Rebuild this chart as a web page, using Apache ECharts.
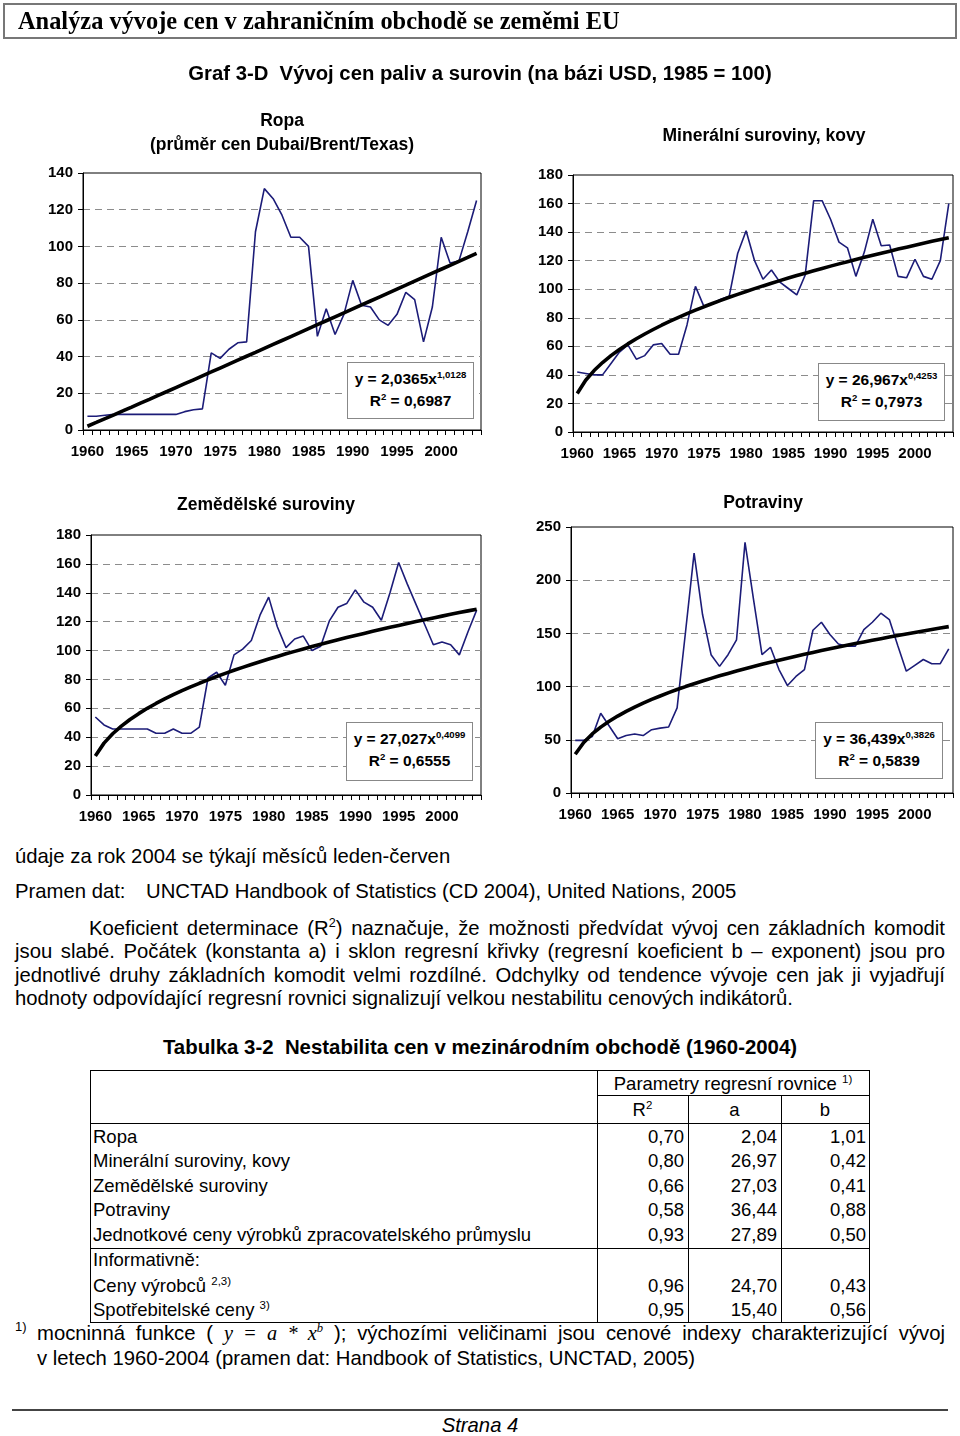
<!DOCTYPE html>
<html>
<head>
<meta charset="utf-8">
<script src="https://cdn.jsdelivr.net/npm/echarts@6/dist/echarts.min.js"></script>
<style>
html,body{margin:0;padding:0;background:#fff;}
#page{position:relative;width:960px;height:1436px;overflow:hidden;font-family:"Liberation Sans",Arial,sans-serif;color:#000;}
#chart{position:absolute;left:0;top:0;width:960px;height:840px;}
.t{position:absolute;white-space:nowrap;line-height:24px;height:24px;z-index:5;}
.c{text-align:center;}
.b{font-weight:bold;}
sup{font-size:62%;vertical-align:0;position:relative;top:-0.6em;line-height:0;}
.eq{position:absolute;z-index:6;background:#fff;border:1px solid #888;box-sizing:border-box;font-weight:bold;font-size:15.5px;text-align:center;line-height:22px;padding-top:5px;}
.just{text-align:justify;text-align-last:justify;}
.ln{position:absolute;background:#000;z-index:5;}
.bt{font-size:20.3px;}
</style>
</head>
<body>
<div id="page">
  <div id="chart"></div>
  <div style="position:absolute;left:3px;top:3px;width:950px;height:32px;border:2px solid #777;z-index:5;"></div>
  <div class="t" style="left:18px;top:8px;font-family:'Liberation Serif','Times New Roman',serif;font-weight:bold;font-size:24.4px;line-height:26px;">Analýza vývoje cen v zahraničním obchodě se zeměmi EU</div>
  <div class="t c b" style="left:0;width:960px;top:61px;font-size:20.3px;">Graf 3-D&nbsp; Vývoj cen paliv a surovin (na bázi USD, 1985 = 100)</div>
  <div id="titles"></div>
  <div id="eqs"></div>
  <div class="t bt" style="left:15px;top:844px;">údaje za rok 2004 se týkají měsíců leden-červen</div>
  <div class="t bt" style="left:15px;top:879px;">Pramen dat:</div>
  <div class="t bt" style="left:146px;top:879px;">UNCTAD Handbook of Statistics (CD 2004), United Nations, 2005</div>
  <div class="t just bt" style="left:89px;width:856px;top:916px;">Koeficient determinace (R<sup>2</sup>) naznačuje, že možnosti předvídat vývoj cen základních komodit</div>
  <div class="t just bt" style="left:15px;width:930px;top:939px;">jsou slabé. Počátek (konstanta a) i sklon regresní křivky (regresní koeficient b – exponent) jsou pro</div>
  <div class="t just bt" style="left:15px;width:930px;top:963px;">jednotlivé druhy základních komodit velmi rozdílné. Odchylky od tendence vývoje cen jak ji vyjadřují</div>
  <div class="t bt" style="left:15px;top:986px;">hodnoty odpovídající regresní rovnici signalizují velkou nestabilitu cenových indikátorů.</div>
  <div class="t c b" style="left:0;width:960px;top:1035px;font-size:20.4px;">Tabulka 3-2&nbsp; Nestabilita cen v mezinárodním obchodě (1960-2004)</div>
  <div id="table"></div>
  <div class="t" style="left:15px;top:1315px;font-size:13px;">1)</div>
  <div class="t just bt" style="left:37px;width:908px;top:1321px;">mocninná funkce ( <span style="font-family:'Liberation Serif',serif;font-style:italic;">y = a * x<sup>b</sup></span> ); výchozími veličinami jsou cenové indexy charakterizující vývoj</div>
  <div class="t bt" style="left:37px;top:1346px;">v letech 1960-2004 (pramen dat: Handbook of Statistics, UNCTAD, 2005)</div>
  <div style="position:absolute;left:12px;top:1409px;width:936px;height:2px;background:#444;"></div>
  <div class="t c" style="left:0;width:960px;top:1413px;font-size:20.3px;font-style:italic;">Strana 4</div>
</div>
<script>
// ---------- DATA ----------
const years = [1960,1961,1962,1963,1964,1965,1966,1967,1968,1969,
               1970,1971,1972,1973,1974,1975,1976,1977,1978,1979,
               1980,1981,1982,1983,1984,1985,1986,1987,1988,1989,
               1990,1991,1992,1993,1994,1995,1996,1997,1998,1999,
               2000,2001,2002,2003,2004];
const ropa = [7.5,7.5,8,8.5,8.5,8.5,8.5,8.5,8.5,8.5,
              8.5,10,11,11.5,42,39,44,47.5,48,108,
              131.5,126,117,105,105,100,51,66,52,63,
              81.5,68,67,60,57,63,75,71,48,67,
              105,91,92,108,125];
const mineralni = [42,41,40,40,48,56,61,51,53.5,61,
                   62,54.5,54.5,75,102,88,90,93,95,125,
                   141,120,107,113.5,105,100.5,96,110,162,162,
                   149,133,129,109,126,149,130.5,131,109,108,
                   121,109,107,120,160];
const zemedelske = [54,48.5,45.7,45.7,45.7,45.7,45.7,42.7,42.7,45.7,
                    42.7,42.7,47,81,85,76,97,101,107,124.5,
                    137,116.5,102,108,110,100,103,120.5,130,132.5,
                    142,133.5,130,121,140,161,146,132,118,104,
                    106,104,97,113,128];
const potraviny = [49.5,49.5,53,75,63,51,54,55.5,54,59.5,
                   61,62,80,152,225.5,167.5,130,119,130,144,
                   235.5,182,130,137,116,101,109.5,116,153,160.5,
                   149,140,138,138,153.5,160.5,169,163,138.5,114.5,
                   120,125.5,121.5,121.5,135.5];
// regression coefficients shown in the chart (y = a * x^b, x = 1..45)
const trendA = [2.0365, 26.967, 27.027, 36.439];
const trendB = [1.0128, 0.4253, 0.4099, 0.3826];
const eqA = ['2,0365','26,967','27,027','36,439'];
const eqB = ['1,0128','0,4253','0,4099','0,3826'];
const eqR2 = ['0,6987','0,7973','0,6555','0,5839'];
const chartTitles = [['Ropa','(průměr cen Dubai/Brent/Texas)'],['Minerální suroviny, kovy'],['Zemědělské suroviny'],['Potraviny']];
const yMax = [140, 180, 180, 250];
const yStep = [20, 20, 20, 50];

// table data
const tabRows = ['Ropa','Minerální suroviny, kovy','Zemědělské suroviny','Potraviny','Jednotkové ceny výrobků zpracovatelského průmyslu'];
const tabR2 = ['0,70','0,80','0,66','0,58','0,93'];
const tabA = ['2,04','26,97','27,03','36,44','27,89'];
const tabB = ['1,01','0,42','0,41','0,88','0,50'];
const infoRows = ['Ceny výrobců <sup>2,3)</sup>','Spotřebitelské ceny <sup>3)</sup>'];
const infoR2 = ['0,96','0,95'];
const infoA = ['24,70','15,40'];
const infoB = ['0,43','0,56'];

// ---------- LAYOUT ----------
const grids = [
  {left:83, top:173, width:398, height:257},
  {left:573, top:175, width:380, height:257},
  {left:91, top:535, width:390, height:260},
  {left:571, top:527, width:382, height:266}
];
const seriesData = [ropa, mineralni, zemedelske, potraviny];
const titlePos = [{x:282, y:[120,144]}, {x:764, y:[135]}, {x:266, y:[504]}, {x:763, y:[502]}];
const eqBoxes = [
  {l:347,t:362,w:127,h:57},
  {l:818,t:363,w:127,h:58},
  {l:346,t:722,w:127,h:59},
  {l:815,t:722,w:128,h:57}
];

const option = {animation:false, grid:[], xAxis:[], yAxis:[], series:[]};
grids.forEach((g,i)=>{
  option.grid.push({left:g.left, top:g.top, width:g.width, height:g.height, show:true, borderColor:'#000', borderWidth:1, backgroundColor:'#fff'});
  option.xAxis.push({
    type:'category', gridIndex:i, data:years.map(String), boundaryGap:true,
    axisLine:{lineStyle:{color:'#000', width:1}},
    axisTick:{show:true, interval:0, length:5, lineStyle:{color:'#000'}},
    axisLabel:{interval:4, margin:14, color:'#000', fontSize:15, fontWeight:'bold', fontFamily:'Liberation Sans, Arial, sans-serif'},
    splitLine:{show:false}
  });
  option.yAxis.push({
    type:'value', gridIndex:i, min:0, max:yMax[i], interval:yStep[i],
    axisLine:{show:true, lineStyle:{color:'#000', width:1}},
    axisTick:{show:true, length:5, lineStyle:{color:'#000'}},
    axisLabel:{margin:10, color:'#000', fontSize:15, fontWeight:'bold', fontFamily:'Liberation Sans, Arial, sans-serif'},
    splitLine:{show:true, showMinLine:false, showMaxLine:false, lineStyle:{color:'#8c8c8c', type:[7,5], width:1}}
  });
  option.series.push({
    type:'line', xAxisIndex:i, yAxisIndex:i, data:seriesData[i], symbol:'none',
    lineStyle:{color:'#1c1c78', width:1.6}, z:3
  });
  option.series.push({
    type:'line', xAxisIndex:i, yAxisIndex:i, symbol:'none', smooth:false,
    data:years.map((y,k)=>+(trendA[i]*Math.pow(k+1, trendB[i])).toFixed(2)),
    lineStyle:{color:'#000', width:3.6}, z:4
  });
});
const chart = echarts.init(document.getElementById('chart'), null, {renderer:'canvas'});
chart.setOption(option);

// titles
let th = '';
chartTitles.forEach((tt,i)=>{
  tt.forEach((s,k)=>{
    th += `<div class="t c b" style="left:${titlePos[i].x-200}px;width:400px;top:${titlePos[i].y[k]-12}px;font-size:17.5px;">${s}</div>`;
  });
});
document.getElementById('titles').innerHTML = th;

// equation boxes
let eh = '';
eqBoxes.forEach((b,i)=>{
  eh += `<div class="eq" style="left:${b.l}px;top:${b.t}px;width:${b.w}px;height:${b.h}px;">y = ${eqA[i]}x<sup>${eqB[i]}</sup><br>R<sup>2</sup> = ${eqR2[i]}</div>`;
});
document.getElementById('eqs').innerHTML = eh;

// table
const TL = 90, TR = 869, C1 = 597, C2 = 688, C3 = 781;
const TT = 1070, H1 = 1095, H2 = 1123, B1 = 1248, TB = 1322;
let tb = '';
const hl = (x1,x2,y)=>`<div class="ln" style="left:${x1}px;top:${y}px;width:${x2-x1+1}px;height:1.3px;"></div>`;
const vl = (x,y1,y2)=>`<div class="ln" style="left:${x}px;top:${y1}px;width:1.3px;height:${y2-y1+1}px;"></div>`;
tb += hl(TL,TR,TT) + hl(C1,TR,H1) + hl(TL,TR,H2) + hl(TL,TR,B1) + hl(TL,TR,TB);
tb += vl(TL,TT,TB) + vl(TR,TT,TB) + vl(C1,TT,TB) + vl(C2,H1,TB) + vl(C3,H1,TB);
const fs = 'font-size:18.5px;';
tb += `<div class="t c" style="left:${C1}px;width:${TR-C1}px;top:${1084-12}px;${fs}">Parametry regresní rovnice <sup>1)</sup></div>`;
tb += `<div class="t c" style="left:${C1}px;width:${C2-C1}px;top:${1110-12}px;${fs}">R<sup>2</sup></div>`;
tb += `<div class="t c" style="left:${C2}px;width:${C3-C2}px;top:${1110-12}px;${fs}">a</div>`;
tb += `<div class="t c" style="left:${C3}px;width:${TR-C3}px;top:${1110-12}px;${fs}">b</div>`;
const rowY = [1137,1161,1186,1210,1235];
const num = (x2,y,s)=>`<div class="t" style="left:${x2-100}px;width:100px;text-align:right;top:${y-12}px;${fs}">${s}</div>`;
tabRows.forEach((r,k)=>{
  tb += `<div class="t" style="left:93px;top:${rowY[k]-12}px;${fs}">${r}</div>`;
  tb += num(C2-4,rowY[k],tabR2[k]) + num(C3-4,rowY[k],tabA[k]) + num(TR-3,rowY[k],tabB[k]);
});
tb += `<div class="t" style="left:93px;top:${1260-12}px;${fs}">Informativně:</div>`;
const infoY = [1286,1310];
infoRows.forEach((r,k)=>{
  tb += `<div class="t" style="left:93px;top:${infoY[k]-12}px;${fs}">${r}</div>`;
  tb += num(C2-4,infoY[k],infoR2[k]) + num(C3-4,infoY[k],infoA[k]) + num(TR-3,infoY[k],infoB[k]);
});
document.getElementById('table').innerHTML = tb;
</script>
</body>
</html>
